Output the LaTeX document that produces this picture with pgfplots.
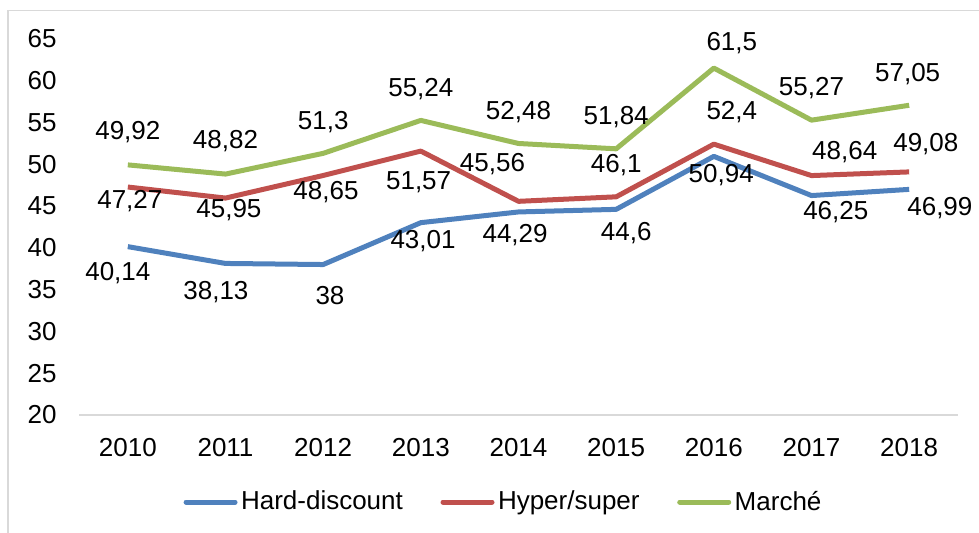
\documentclass[border=0pt]{standalone}
\usepackage{fontspec}
\setmainfont{Liberation Sans}
\usepackage{pgfplots}
\pgfplotsset{compat=1.18}
\usepackage{pgfplotstable}
\definecolor{cblue}{HTML}{4F81BD}
\definecolor{cred}{HTML}{C0504D}
\definecolor{cgreen}{HTML}{9BBB59}
\definecolor{cgrid}{HTML}{D9D9D9}

\pgfplotstableread{
x y dx dy
0 40.14 -5 -13.2
1 38.13 -4.8 -14.3
2 38.00 3.4 -15.7
3 43.01 1.1 -9.45
4 44.29 -1.7 -11.5
5 44.60 5 -11.7
6 50.94 3.7 -9.35
7 46.25 12.15 -8.25
8 46.99 15.35 -9.4
}\hard

\pgfplotstableread{
x y dx dy
0 47.27 1 -7
1 45.95 1.7 -6
2 48.65 1.4 -8.25
3 51.57 -1.1 -15.75
4 45.56 -13 18.6
5 46.10 0 15.9
6 52.40 9 15.8
7 48.64 16.6 11.5
8 49.08 8.35 13.85
}\hyper

\pgfplotstableread{
x y dx dy
0 49.92 0 16.5
1 48.82 0 16.25
2 51.30 0 15.5
3 55.24 0 15.5
4 52.48 0 15.75
5 51.84 0 16
6 61.50 9 12.5
7 55.27 0 16
8 57.05 -0.75 15.6
}\marche

\newcommand{\lblfont}{\fontsize{13}{15.6}\selectfont}

\begin{document}
\begin{tikzpicture}[font=\lblfont]
\useasboundingbox (0,0) rectangle (489.5pt,-266pt);
\draw[cgrid, line width=0.75pt] (4pt,-5.25pt) rectangle (500pt,-275pt);
\begin{axis}[
  at={(39.5pt,-207.5pt)}, anchor=south west,
  scale only axis, width=439.5pt, height=188.1pt,
  xmin=-0.5, xmax=8.5, ymin=20, ymax=65,
  xtick={0,1,2,3,4,5,6,7,8},
  xticklabels={2010,2011,2012,2013,2014,2015,2016,2017,2018},
  ytick={20,25,30,35,40,45,50,55,60,65},
  axis line style={draw=none},
  major tick length=0pt,
  tick style={draw=none},
  /pgf/number format/assume math mode=true,
  /pgf/number format/use comma,
  /pgf/number format/fixed,
  /pgf/number format/precision=2,
  tick label style={font=\lblfont, text=black},
  yticklabel style={anchor=east, inner sep=0pt, xshift=-11pt},
  xticklabel style={anchor=north, inner sep=0pt, yshift=-11.5pt},
  clip=false,
  legend columns=3,
  legend style={at={(0.4818,-0.2313)}, anchor=center, draw=none, fill=none,
    inner sep=0pt, font=\lblfont, text=black,
    nodes={inner sep=0pt},
    /tikz/every odd column/.append style={column sep=1.75pt},
    /tikz/every even column/.append style={column sep=18.8pt}},
  legend image code/.code={\draw[#1, line width=2.5pt, line cap=round] (1.25pt,0pt) -- (25.75pt,0pt);},
  every axis plot/.append style={line width=2.5pt, line join=round, no markers},
]
\draw[cgrid, line width=0.75pt] (rel axis cs:0,0) -- (rel axis cs:1,0);
\pgfplotsset{
  lbl/.style={
    nodes near coords,
    point meta=y,
    visualization depends on={\thisrow{dx} \as \dx},
    visualization depends on={\thisrow{dy} \as \dy},
    every node near coord/.append style={anchor=center, inner sep=0pt, font=\lblfont, text=black, xshift=\dx pt, yshift=\dy pt},
  }
}
\addplot[color=cblue, lbl] table[x=x, y=y] {\hard};
\addlegendentry{Hard-discount}
\addplot[color=cred, lbl] table[x=x, y=y] {\hyper};
\addlegendentry{Hyper/super}
\addplot[color=cgreen, lbl] table[x=x, y=y] {\marche};
\addlegendentry{Marché}
\end{axis}
\end{tikzpicture}
\end{document}
